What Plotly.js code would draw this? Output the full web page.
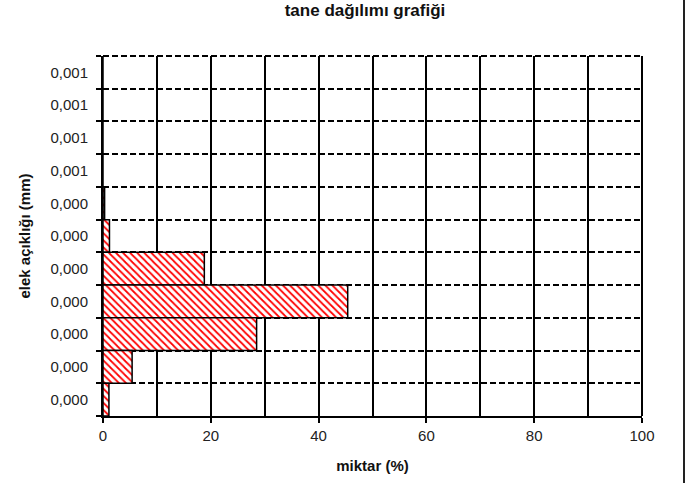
<!DOCTYPE html>
<html><head><meta charset="utf-8">
<script src="https://cdn.plot.ly/plotly-3.0.1.min.js"></script>
<style>html,body{margin:0;padding:0;background:#fff}#c{width:686px;height:483px}</style>
</head><body><div id="c"></div>
<script>
// categories from top to bottom
const sieveLabels = ["0,001","0,001","0,001","0,001","0,000","0,000","0,000","0,000","0,000","0,000","0,000"];
const amounts = [0, 0, 0, 0, 0.3, 1.2, 18.8, 45.4, 28.5, 5.4, 1.1];
const xTicks = [0, 20, 40, 60, 80, 100];

const positions = sieveLabels.map((_, i) => i);
const boundaries = sieveLabels.map((_, i) => i - 0.5).concat([sieveLabels.length - 0.5]);

const font = "Liberation Sans, Arial, sans-serif";
const trace = {
  type: "bar", orientation: "h",
  x: amounts, y: positions,
  width: 1,
  marker: {
    color: "#ffffff",
    line: {color: "#000", width: 1.5},
    pattern: {shape: "\\", fgcolor: "#ff0000", bgcolor: "#ffffff", size: 5, solidity: 0.35}
  },
  hoverinfo: "none"
};
const layout = {
  width: 686, height: 483,
  margin: {l: 103, r: 44, t: 56, b: 67},
  paper_bgcolor: "#fff", plot_bgcolor: "#fff",
  showlegend: false,
  bargap: 0,
  font: {family: font, size: 15, color: "#222"},
  title: {text: "<b>tane dağılımı grafiği</b>", x: 365/686, xref: "container", xanchor: "center",
          yref: "container", y: 1 - 4/483, yanchor: "top",
          font: {family: font, size: 17, color: "#111"}},
  xaxis: {
    range: [0, 100], tickmode: "array", tickvals: xTicks,
    ticks: "outside", ticklen: 5, tickwidth: 2, tickcolor: "#000",
    showgrid: true, gridcolor: "#000", gridwidth: 2,
    minor: {dtick: 10, tick0: 0, showgrid: true, gridcolor: "#000", gridwidth: 2},
    showline: true, linecolor: "#000", linewidth: 2, mirror: false,
    zeroline: false,
    title: {text: "<b>miktar (%)</b>", standoff: 17, font: {family: font, size: 15, color: "#111"}},
    tickfont: {family: font, size: 15, color: "#222"}
  },
  yaxis: {
    range: [sieveLabels.length - 0.5, -0.5],
    tickmode: "array", tickvals: positions, ticktext: sieveLabels,
    ticks: "", showgrid: false, zeroline: false,
    showline: true, linecolor: "#000", linewidth: 2,
    minor: {tickmode: "array", tickvals: boundaries, ticks: "outside", ticklen: 5, tickwidth: 2, tickcolor: "#000",
            showgrid: true, gridcolor: "#000", gridwidth: 2, griddash: "6px,3px"},
    ticklabelstandoff: 10,
    title: {text: "<b>elek açıklığı (mm)</b>", standoff: 16, font: {family: font, size: 15, color: "#111"}},
    tickfont: {family: font, size: 15, color: "#222"}
  },
  shapes: [
    // top dashed border of plot area
    {type: "line", xref: "paper", yref: "paper", x0: 0, x1: 1, y0: 1, y1: 1,
     line: {color: "#000", width: 2, dash: "6px,3px"}},
    // right border of plot area
    {type: "line", xref: "paper", yref: "paper", x0: 1, x1: 1, y0: 0, y1: 1,
     line: {color: "#000", width: 2}},
    // chart-area frame on the right
    {type: "line", xref: "paper", yref: "paper", x0: 581/539, x1: 581/539, y0: -0.2, y1: 1.2,
     line: {color: "#222", width: 2}}
  ]
};
Plotly.newPlot("c", [trace], layout, {staticPlot: true});
</script></body></html>
